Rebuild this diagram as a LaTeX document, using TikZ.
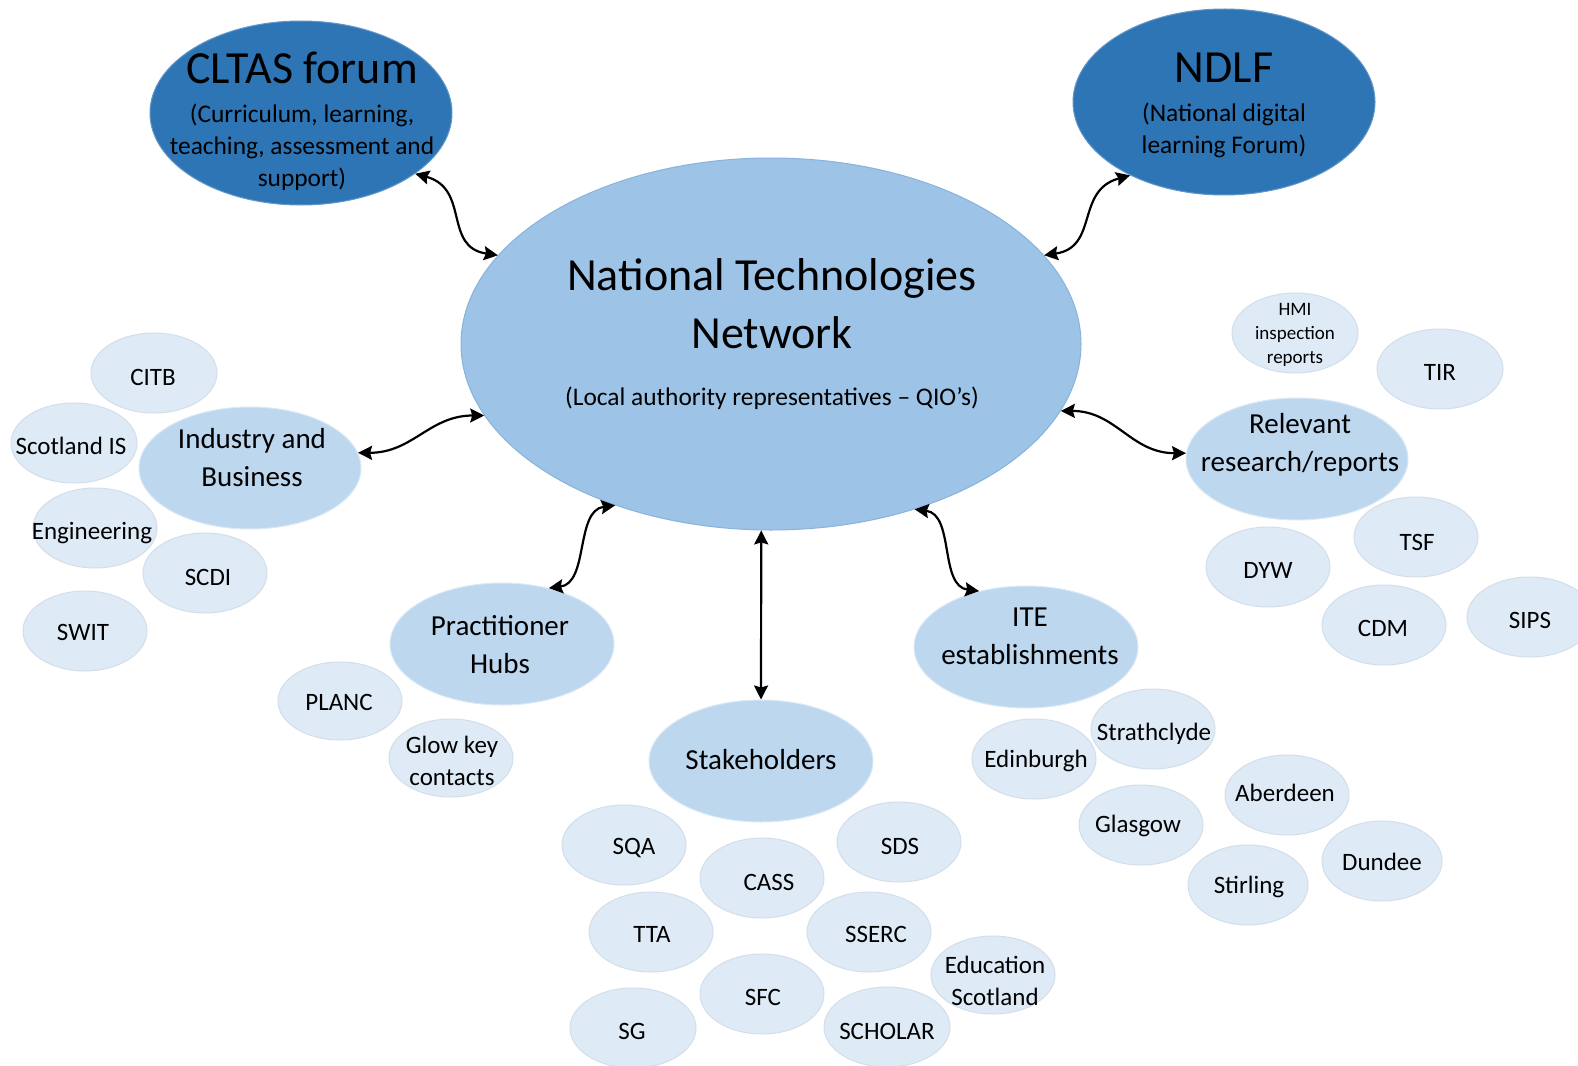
\documentclass[tikz,border=0pt]{standalone}
\usepackage{fontspec}
\setmainfont{Carlito}
\usetikzlibrary{shapes.geometric,arrows.meta}
\definecolor{cDark}{HTML}{2E75B6}
\definecolor{cMid}{HTML}{9DC3E6}
\definecolor{cSec}{HTML}{BDD7EE}
\definecolor{cTer}{HTML}{DEEBF7}
\tikzset{
  ell/.style={ellipse, inner sep=0pt, line width=0.5pt},
  darkE/.style={ell, fill=cDark, draw=cDark!75!white},
  midE/.style={ell, fill=cMid, draw=cMid!80!cDark},
  secE/.style={ell, fill=cSec, draw=cSec!55!white},
  terE/.style={ell, fill=cTer, draw=cTer!88!gray},
  hmiE/.style={terE},
  txt/.style={inner sep=0pt, align=center, text=black},
  titleT/.style={txt, font=\fontsize{23}{29}\selectfont},
  subT/.style={txt, font=\fontsize{12.7}{15}\selectfont},
  secT/.style={txt, font=\fontsize{14.5}{19}\selectfont},
  terT/.style={txt, font=\fontsize{12.5}{16}\selectfont},
  hmiT/.style={txt, font=\fontsize{9.5}{12}\selectfont},
  link/.style={line width=1.1pt, black, {Stealth[length=7pt,width=7pt,inset=1pt]}-{Stealth[length=7pt,width=7pt,inset=1pt]}}
}
% style prefix, name, centre, rx, ry, text position, text
\newcommand\bub[7]{\node[#1E, minimum width=#4pt, minimum height=#5pt] (#2) at (#3) {};
  \node[#1T] (#2t) at (#6) {#7};}
\begin{document}
\begin{tikzpicture}[x=0.5pt,y=-0.5pt]
\useasboundingbox (0,0) rectangle (1578,1065);
\fill[white] (0,0) rectangle (1578,1065);

% top forums
\node[darkE, minimum width=151pt, minimum height=92pt] (cltas) at (301,113) {};
\node[titleT] (cltast) at (302,68) {CLTAS forum};
\node[subT, font=\fontsize{12.7}{16}\selectfont] (cltass) at (302,147) {(Curriculum, learning,\\teaching, assessment and\\support)};
\node[darkE, minimum width=151pt, minimum height=93pt] (ndlf) at (1224,102) {};
\node[titleT] (ndlft) at (1224,68) {NDLF};
\node[subT, font=\fontsize{12.7}{16}\selectfont] (ndlfs) at (1224,130) {(National digital\\learning Forum)};

% central network
\node[midE, minimum width=310pt, minimum height=186pt] (C) at (771,344) {};
\node[titleT] (Ct) at (772,304) {National Technologies\\Network};
\node[subT] (Cs) at (772,398) {(Local authority representatives – QIO’s)};

% industry cluster
\bub{ter}{citb}{154,373}{63}{40}{153,377}{CITB}
\bub{ter}{scotis}{74,443}{63}{40}{71,446}{Scotland IS}
\bub{ter}{eng}{95,528}{62}{40}{92,533}{Engineering}
\bub{ter}{scdi}{205,573}{62}{40}{208,577}{SCDI}
\bub{ter}{swit}{85,631}{62}{40}{83,632}{SWIT}
\bub{sec}{ind}{250,468}{111}{61}{252,458}{Industry and\\Business}

% practitioner cluster
\bub{sec}{prac}{502,644}{112}{61}{500,645}{Practitioner\\Hubs}
\bub{ter}{planc}{340,701}{62}{39}{339,702}{PLANC}
\bub{ter}{glow}{451,758}{62}{39}{452,761}{Glow key\\contacts}

% stakeholders cluster
\bub{sec}{stake}{761,761}{112}{61}{761,760}{Stakeholders}
\bub{ter}{sqa}{624,845}{62}{40}{634,848}{SQA}
\bub{ter}{cass}{762,878}{62}{40}{769,882}{CASS}
\bub{ter}{sds}{899,842}{62}{40}{900,846}{SDS}
\bub{ter}{tta}{651,932}{62}{40}{652,934}{TTA}
\bub{ter}{sserc}{869,932}{62}{40}{876,934}{SSERC}
\bub{ter}{sfc}{762,994}{62}{40}{763,997}{SFC}
\bub{ter}{sg}{633,1028}{63}{40}{632,1031}{SG}
\bub{ter}{scholar}{887,1027}{63}{40}{887,1031}{SCHOLAR}
\bub{ter}{edsc}{993,975}{62}{39}{995,981}{Education\\Scotland}

% ITE cluster
\bub{sec}{ite}{1026,647}{112}{61}{1030,636}{ITE\\establishments}
\bub{ter}{strath}{1153,729}{62}{40}{1154,734}{Strathclyde}
\bub{ter}{edin}{1034,759}{62}{40}{1036,761}{Edinburgh}
\bub{ter}{glas}{1141,825}{62}{40}{1138,826}{Glasgow}
\bub{ter}{aber}{1287,795}{62}{40}{1285,793}{Aberdeen}
\bub{ter}{stir}{1248,885}{60}{40}{1249,887}{Stirling}
\bub{ter}{dund}{1382,861}{60}{40}{1382,862}{Dundee}

% research cluster
\bub{hmi}{hmi}{1295,333}{63}{40}{1295,335}{HMI\\inspection\\reports}
\bub{ter}{tir}{1440,369}{63}{40}{1440,372}{TIR}
\bub{sec}{rel}{1297,459}{111}{61}{1300,445}{Relevant\\research/reports}
\bub{ter}{tsf}{1416,537}{62}{40}{1417,542}{TSF}
\bub{ter}{dyw}{1268,567}{62}{40}{1268,570}{DYW}
\bub{ter}{cdm}{1384,625}{62}{40}{1383,628}{CDM}
\bub{ter}{sips}{1530,617}{63}{40}{1530,620}{SIPS}

% connectors
\draw[link] (cltas.-28.5) .. controls +(55,15) and +(-55,-8) .. (C.162);
\draw[link] (ndlf.-142) .. controls +(-55,15) and +(55,-8) .. (C.18);
\draw[link] (ind.8) .. controls +(55,0) and +(-55,0) .. (C.-166.6);
\draw[link] (C.-13) .. controls +(55,0) and +(-55,0) .. (rel.177.4);
\draw[link] (C.-134) .. controls +(-40,5) and +(40,-5) .. (prac.50);
\draw[link] (C.-49.5) .. controls +(40,5) and +(-40,-5) .. (ite.130.6);
\draw[link] (C.-93) -- (stake.north);
\end{tikzpicture}
\end{document}
